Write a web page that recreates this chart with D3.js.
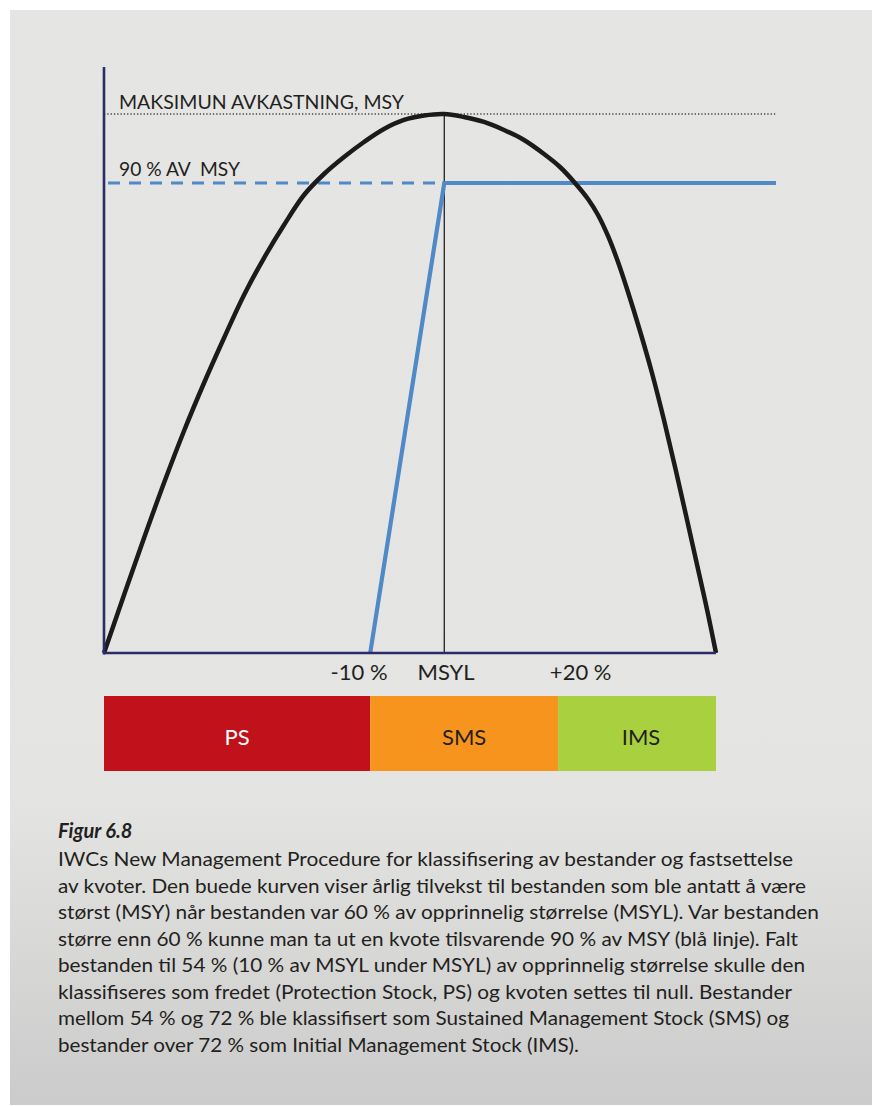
<!DOCTYPE html>
<html>
<head>
<meta charset="utf-8">
<script src="https://cdn.jsdelivr.net/npm/d3@7/dist/d3.min.js"></script>
<style>
  html, body { margin: 0; padding: 0; background: #ffffff; }
  svg { display: block; }
  text { font-family: Lato, "Open Sans", sans-serif; }
</style>
</head>
<body>
<div id="chart"></div>
<script>
// ---- Data ----
// x: relative stock size (0 = empty, 100 = curve end); y: yield in % of MSY
const curveX = [0, 3.27, 6.54, 9.80, 13.07, 16.34, 19.61, 22.88, 26.14, 29.41, 32.68, 35.95, 39.22,
                42.48, 45.75, 49.02, 52.29, 55.56,
                58.82, 62.09, 65.36, 68.63, 71.90, 74.51, 76.96, 79.08, 80.72, 82.35, 83.99, 85.62,
                87.58, 89.54, 91.50, 93.46, 95.42, 97.39, 98.69, 100];
const curveY = [0, 10.76, 21.34, 31.54, 41.19, 50.09, 58.44, 66.42, 73.28, 79.41, 84.97, 88.87, 92.02,
                94.81, 97.22, 98.89, 99.72, 100,
                99.44, 98.52, 97.03, 95.18, 92.58, 90.17, 87.20, 84.23, 81.26, 77.37, 72.54, 66.98,
                59.74, 51.95, 43.23, 33.77, 23.93, 13.91, 7.24, 0];
const msylX = 55.6;          // MSYL position
const msyY = 100;            // MSY level
const quotaY = 87.2;         // "90 % av MSY" level as drawn
const quotaX = [43.5, 55.6, 109.8];   // quota line: zero at -10 %, full from MSYL onwards
const quotaV = [0, 87.2, 87.2];
const axisTopY = 108.7;
const lineEndX = 109.8;

const bandNames = ["PS", "SMS", "IMS"];
const bandStart = [0, 43.5, 74.2];
const bandEnd = [43.5, 74.2, 100];
const bandColors = ["#c1121c", "#f7941e", "#a9d03e"];
const bandTextColors = ["#ffffff", "#231f20", "#231f20"];

const tickLabels = ["-10 %", "MSYL", "+20 %"];
const tickPos = [41.6, 55.8, 77.8];

const msyLabel = "MAKSIMUN AVKASTNING, MSY";
const quotaLabel = "90 % AV  MSY";
const figTitle = "Figur 6.8";
const captionLines = [
  "IWCs New Management Procedure for klassifisering av bestander og fastsettelse",
  "av kvoter. Den buede kurven viser årlig tilvekst til bestanden som ble antatt å være",
  "størst (MSY) når bestanden var 60 % av opprinnelig størrelse (MSYL). Var bestanden",
  "større enn 60 % kunne man ta ut en kvote tilsvarende 90 % av MSY (blå linje). Falt",
  "bestanden til 54 % (10 % av MSYL under MSYL) av opprinnelig størrelse skulle den",
  "klassifiseres som fredet (Protection Stock, PS) og kvoten settes til null. Bestander",
  "mellom 54 % og 72 % ble klassifisert som Sustained Management Stock (SMS) og",
  "bestander over 72 % som Initial Management Stock (IMS)."
];

// ---- Layout ----
const W = 872, H = 1106;
const svg = d3.select("#chart").append("svg").attr("width", W).attr("height", H);

const defs = svg.append("defs");
const grad = defs.append("linearGradient").attr("id", "bg").attr("x1", 0).attr("y1", 0).attr("x2", 0).attr("y2", 1);
grad.append("stop").attr("offset", "0").attr("stop-color", "#e5e5e3");
grad.append("stop").attr("offset", "0.72").attr("stop-color", "#e4e4e2");
grad.append("stop").attr("offset", "1").attr("stop-color", "#cbcbcb");

svg.append("rect").attr("x", 10).attr("y", 10).attr("width", W - 10).attr("height", 1095).attr("fill", "url(#bg)");

const x = d3.scaleLinear().domain([0, 100]).range([104, 716]);
const y = d3.scaleLinear().domain([0, 100]).range([653, 114]);

const g = svg.append("g");

// MSY dotted line
g.append("line")
  .attr("x1", x(0)).attr("x2", x(lineEndX))
  .attr("y1", y(msyY)).attr("y2", y(msyY))
  .attr("stroke", "#444").attr("stroke-width", 1.3).attr("stroke-dasharray", "1.3,2");

// MSYL vertical
g.append("line")
  .attr("x1", x(msylX)).attr("x2", x(msylX))
  .attr("y1", y(msyY)).attr("y2", y(0))
  .attr("stroke", "#222").attr("stroke-width", 1.3);

// dashed blue 90% line (left of MSYL)
g.append("line")
  .attr("x1", x(0)).attr("x2", x(msylX))
  .attr("y1", y(quotaY)).attr("y2", y(quotaY))
  .attr("stroke", "#4f89c8").attr("stroke-width", 3.2).attr("stroke-dasharray", "12,9")
  .attr("stroke-dashoffset", -4);

// quota line
const qLine = d3.line().x(d => x(d[0])).y(d => y(d[1]));
g.append("path")
  .attr("d", qLine(quotaX.map((v, i) => [v, quotaV[i]])))
  .attr("fill", "none").attr("stroke", "#4f89c8").attr("stroke-width", 4.2)
  .attr("stroke-linejoin", "miter");

// yield curve
const cLine = d3.line().x(d => x(d[0])).y(d => y(d[1])).curve(d3.curveCatmullRom.alpha(0.5));
g.append("path")
  .attr("d", cLine(curveX.map((v, i) => [v, curveY[i]])))
  .attr("fill", "none").attr("stroke", "#1c1a1a").attr("stroke-width", 4.5)
  .attr("stroke-linejoin", "round");

// axes
g.append("line")
  .attr("x1", x(0)).attr("x2", x(0))
  .attr("y1", y(axisTopY)).attr("y2", y(0) + 1.5)
  .attr("stroke", "#2c2a68").attr("stroke-width", 2.6);
g.append("line")
  .attr("x1", x(0)).attr("x2", x(100))
  .attr("y1", y(0)).attr("y2", y(0))
  .attr("stroke", "#2c2a68").attr("stroke-width", 2.6);

// labels
g.append("text").attr("x", 119).attr("y", 109)
  .attr("font-size", 20).attr("fill", "#231f20")
  .attr("textLength", 285).attr("lengthAdjust", "spacingAndGlyphs")
  .text(msyLabel);
g.append("text").attr("x", 119).attr("y", 176)
  .attr("font-size", 20).attr("fill", "#231f20")
  .attr("textLength", 121).attr("lengthAdjust", "spacingAndGlyphs")
  .attr("xml:space", "preserve").style("white-space", "pre")
  .text(quotaLabel);

// x tick labels via axis
const xAxis = d3.axisBottom(x)
  .tickValues(tickPos)
  .tickFormat((d, i) => tickLabels[i])
  .tickSize(0).tickPadding(0);
const ax = svg.append("g").attr("transform", `translate(0, ${y(0)})`).call(xAxis);
ax.select(".domain").remove();
ax.selectAll("text")
  .attr("y", 27).attr("dy", 0)
  .attr("font-family", "Lato, 'Open Sans', sans-serif")
  .attr("font-size", 22).attr("fill", "#231f20");

// bands
const bands = svg.append("g");
bandNames.forEach((name, i) => {
  bands.append("rect")
    .attr("x", x(bandStart[i])).attr("y", 696)
    .attr("width", x(bandEnd[i]) - x(bandStart[i])).attr("height", 75)
    .attr("fill", bandColors[i]);
  bands.append("text")
    .attr("x", (x(bandStart[i]) + x(bandEnd[i])) / 2 + (i === 2 ? 4 : 0))
    .attr("y", 745)
    .attr("text-anchor", "middle")
    .attr("font-size", 22).attr("fill", bandTextColors[i])
    .text(name);
});

// caption
const cap = svg.append("g");
cap.append("text").attr("x", 58).attr("y", 838)
  .attr("font-size", 20).attr("font-weight", "bold").attr("font-style", "italic")
  .attr("fill", "#231f20").text(figTitle);
const lineWidths = [735, 748, 761, 740, 747, 734, 731, 521];
captionLines.forEach((t, i) => {
  cap.append("text").attr("x", 58).attr("y", 866 + i * 26.5)
    .attr("font-size", 20).attr("fill", "#231f20")
    .attr("textLength", lineWidths[i]).attr("lengthAdjust", "spacingAndGlyphs")
    .text(t);
});
</script>
</body>
</html>
